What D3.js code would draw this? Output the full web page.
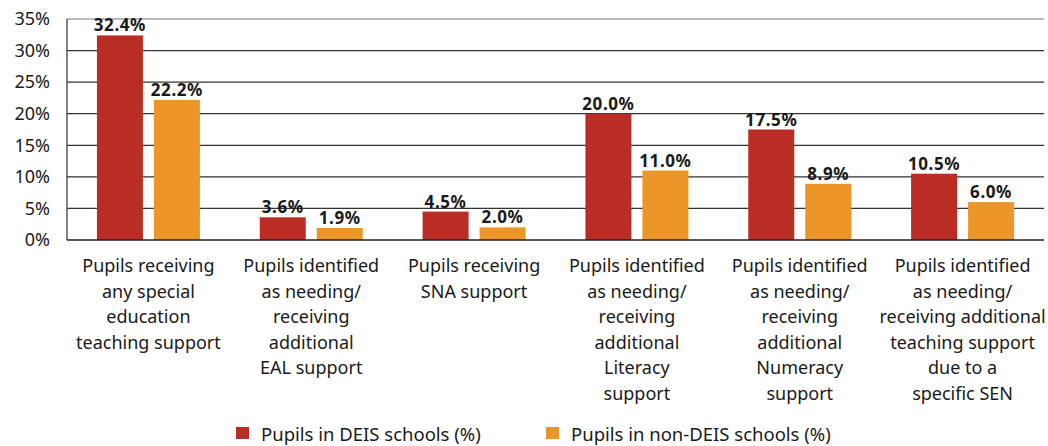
<!DOCTYPE html>
<html>
<head>
  <meta charset="utf-8" />
  <title>DEIS chart</title>
  <script src="https://cdn.jsdelivr.net/npm/d3@7"></script>
  <style>
    body { margin: 0; background: #fff; }
    text { font-family: "Noto Sans", "Open Sans", sans-serif; fill: #1a1a1a; }
  </style>
</head>
<body>
<div id="vis"></div>
<script>
  var categories = [
    ["Pupils receiving", "any special", "education", "teaching support"],
    ["Pupils identified", "as needing/", "receiving", "additional", "EAL support"],
    ["Pupils receiving", "SNA support"],
    ["Pupils identified", "as needing/", "receiving", "additional", "Literacy", "support"],
    ["Pupils identified", "as needing/", "receiving", "additional", "Numeracy", "support"],
    ["Pupils identified", "as needing/", "receiving additional", "teaching support", "due to a", "specific SEN"]
  ];
  var deis = [32.4, 3.6, 4.5, 20.0, 17.5, 10.5];
  var nonDeis = [22.2, 1.9, 2.0, 11.0, 8.9, 6.0];
  var seriesNames = ["Pupils in DEIS schools (%)", "Pupils in non-DEIS schools (%)"];
  var colors = ["#b92d25", "#ec9629"];
  var ticks = [0, 5, 10, 15, 20, 25, 30, 35];

  var w = 1048, h = 446;
  var pLeft = 67, pRight = 1044, pTop = 19, pBottom = 240;

  var svg = d3.select("#vis").append("svg")
    .attr("width", w).attr("height", h);

  var x = d3.scaleBand()
    .domain(d3.range(categories.length))
    .range([pLeft, pRight]);

  var inner = d3.scaleBand()
    .domain([0, 1])
    .range([0, x.bandwidth()])
    .paddingInner(0.193)
    .paddingOuter(0.525);

  var y = d3.scaleLinear().domain([0, 35]).range([pBottom, pTop]);

  // gridlines
  svg.selectAll("line.grid")
    .data(ticks.filter(function(d) { return d > 0; }))
    .enter().append("line")
    .attr("x1", pLeft).attr("x2", pRight)
    .attr("y1", function(d) { return y(d); })
    .attr("y2", function(d) { return y(d); })
    .attr("stroke", function(d) { return d == 35 ? "#777" : "#333"; })
    .attr("stroke-width", 1.2);

  // y axis
  var yAxis = d3.axisLeft(y).tickValues(ticks)
    .tickFormat(function(d) { return d + "%"; })
    .tickSize(0).tickPadding(17);
  var ga = svg.append("g").attr("transform", "translate(" + pLeft + ",0)").call(yAxis);
  ga.select(".domain").remove();
  ga.selectAll("text").style("font-size", "18px").style("font-family", null).attr("fill", "#1a1a1a");

  var data = [deis, nonDeis];

  data.forEach(function(vals, s) {
    svg.selectAll("rect.s" + s)
      .data(vals)
      .enter().append("rect")
      .attr("x", function(d, i) { return x(i) + inner(s); })
      .attr("width", inner.bandwidth())
      .attr("y", function(d) { return y(d); })
      .attr("height", function(d) { return pBottom - y(d); })
      .attr("fill", colors[s]);

    svg.selectAll("text.v" + s)
      .data(vals)
      .enter().append("text")
      .attr("x", function(d, i) { return x(i) + inner(s) + inner.bandwidth() / 2; })
      .attr("y", function(d) { return y(d) - 4; })
      .attr("text-anchor", "middle")
      .style("font-size", "17px")
      .style("font-weight", "bold")
      .style("letter-spacing", "0.6px")
      .text(function(d) { return d.toFixed(1) + "%"; });
  });

  // axis lines
  svg.append("line").attr("x1", pLeft).attr("x2", pLeft).attr("y1", pTop).attr("y2", pBottom)
    .attr("stroke", "#333").attr("stroke-width", 1.2);
  svg.append("line").attr("x1", pLeft).attr("x2", pRight).attr("y1", pBottom).attr("y2", pBottom)
    .attr("stroke", "#222").attr("stroke-width", 1.5);

  // category labels
  categories.forEach(function(lines, i) {
    var t = svg.append("text")
      .attr("text-anchor", "middle")
      .style("font-size", "18px");
    lines.forEach(function(l, k) {
      t.append("tspan")
        .attr("x", x(i) + x.bandwidth() / 2)
        .attr("y", 272 + k * 25.5)
        .text(l);
    });
  });

  // legend
  var legX = [236, 546];
  seriesNames.forEach(function(n, s) {
    svg.append("rect").attr("x", legX[s]).attr("y", 427)
      .attr("width", 13).attr("height", 12).attr("fill", colors[s]);
    svg.append("text").attr("x", legX[s] + 25).attr("y", 441)
      .style("font-size", "18.5px").text(n);
  });
</script>
</body>
</html>
